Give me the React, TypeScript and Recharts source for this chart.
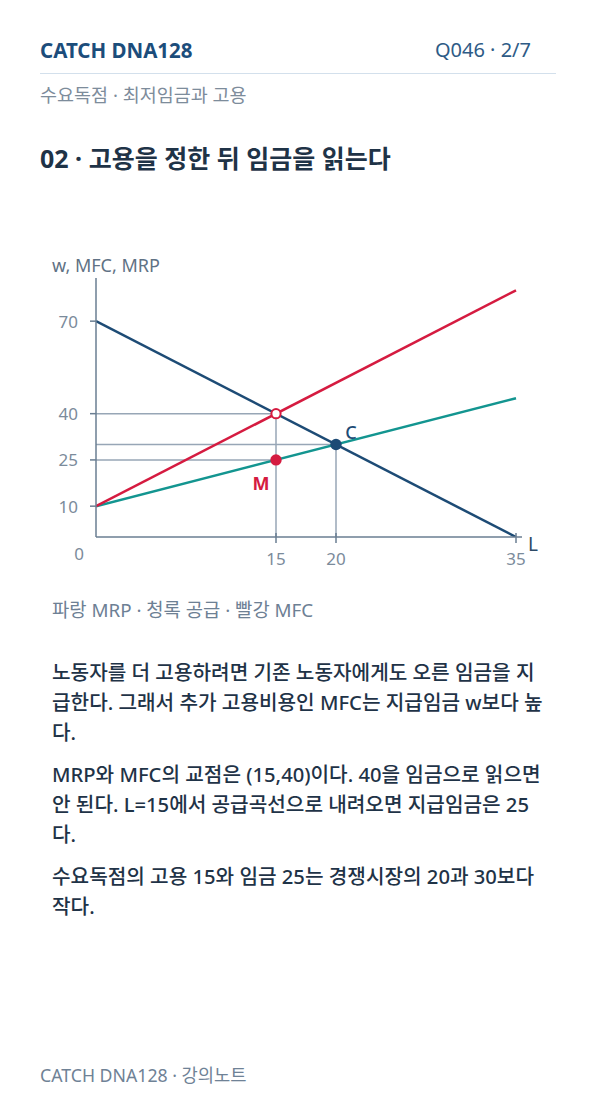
import { Line, LineChart, ReferenceDot, ReferenceLine, XAxis, YAxis } from 'recharts'

// curves of the monopsony diagram, L on x, w on y
const mrpLine = [{ L: 0, w: 70 }, { L: 35, w: 0 }]
const mfcLine = [{ L: 0, w: 10 }, { L: 35, w: 80 }]
const supplyLine = [{ L: 0, w: 10 }, { L: 35, w: 45 }]

const xTicks = [15, 20, 35]
const yTicks = [0, 10, 25, 40, 70]

// (L, w) pairs for the dotted reading guides
const guideSegments: [number, number, number, number][] = [
  [0, 40, 15, 40],
  [0, 30, 20, 30],
  [0, 25, 15, 25],
  [15, 40, 15, 0],
  [20, 30, 20, 0],
]

const mfcCross = { L: 15, w: 40 }
const monopsony = { L: 15, w: 25, label: 'M' }
const competitive = { L: 20, w: 30, label: 'C' }

const NAVY = '#1d4b75'
const RED = '#d51b40'
const TEAL = '#139590'
const AXIS = '#6a7e92'
const GUIDE = '#97a6b6'
const TICK_TEXT = '#7b8b9b'
const FONT = '"Noto Sans", "Noto Sans CJK KR", sans-serif'

function YTick({ x, y, payload }: any) {
  if (payload.value === 0) {
    return <text x={x - 12} y={y + 16} textAnchor="end" dominantBaseline="central" fontSize={17} fill={TICK_TEXT} fontFamily={FONT}>0</text>
  }
  return (
    <g>
      <line x1={x - 6} x2={x} y1={y} y2={y} stroke={AXIS} strokeWidth={1.5} />
      <text x={x - 18} y={y} textAnchor="end" dominantBaseline="central" fontSize={17} fill={TICK_TEXT} fontFamily={FONT}>{payload.value}</text>
    </g>
  )
}

function XTick({ x, y, payload }: any) {
  return (
    <g>
      <line x1={x} x2={x} y1={y - 4} y2={y + 6} stroke={AXIS} strokeWidth={1.5} />
      <text x={x} y={y + 21} textAnchor="middle" dominantBaseline="central" fontSize={17} fill={TICK_TEXT} fontFamily={FONT}>{payload.value}</text>
    </g>
  )
}

function AxisEndLabel({ viewBox }: any) {
  return <text x={viewBox.x + viewBox.width + 6} y={viewBox.y + 7} dominantBaseline="central" fontSize={19} fill="#2d4a66" fontFamily={FONT}>L</text>
}

function labeledDot(color: string, text: string, dx: number, dy: number, weight: number) {
  return ({ cx, cy }: any) => (
    <g>
      <circle cx={cx} cy={cy} r={5.7} fill={color} />
      <text x={cx + dx} y={cy + dy} textAnchor="middle" dominantBaseline="central" fontSize={18} fontWeight={weight} fill={color} fontFamily={FONT}>{text}</text>
    </g>
  )
}

function Diagram() {
  return (
    <LineChart width={596} height={340} margin={{ top: 38, right: 74, bottom: 0, left: 0 }}>
      <XAxis type="number" dataKey="L" domain={[0, 35.5]} allowDataOverflow ticks={xTicks} tick={<XTick />} tickSize={0} tickMargin={0} tickLine={false} axisLine={{ stroke: AXIS, strokeWidth: 1.5 }} height={43} label={{ content: <AxisEndLabel /> }} />
      <YAxis type="number" dataKey="w" domain={[0, 84]} allowDataOverflow ticks={yTicks} tick={<YTick />} tickSize={0} tickMargin={0} tickLine={false} axisLine={{ stroke: AXIS, strokeWidth: 1.5 }} width={96} interval={0} />
      {guideSegments.map(([x1, y1, x2, y2], i) => (
        <ReferenceLine key={i} segment={[{ x: x1, y: y1 }, { x: x2, y: y2 }]} stroke={GUIDE} strokeWidth={1.5} />
      ))}
      <Line data={supplyLine} dataKey="w" type="linear" stroke={TEAL} strokeWidth={2.5} dot={false} activeDot={false} isAnimationActive={false} />
      <Line data={mfcLine} dataKey="w" type="linear" stroke={RED} strokeWidth={2.5} dot={false} activeDot={false} isAnimationActive={false} />
      <Line data={mrpLine} dataKey="w" type="linear" stroke={NAVY} strokeWidth={2.5} dot={false} activeDot={false} isAnimationActive={false} />
      <ReferenceDot x={mfcCross.L} y={mfcCross.w} r={4.6} fill="#ffffff" stroke={RED} strokeWidth={2} />
      <ReferenceDot x={monopsony.L} y={monopsony.w} shape={labeledDot(RED, monopsony.label, -15, 23, 700)} />
      <ReferenceDot x={competitive.L} y={competitive.w} shape={labeledDot(NAVY, competitive.label, 15, -13, 500)} />
    </LineChart>
  )
}

const bodyLines = [
  ['노동자를 더 고용하려면 기존 노동자에게도 오른 임금을 지', '급한다. 그래서 추가 고용비용인 MFC는 지급임금 w보다 높', '다.'],
  ['MRP와 MFC의 교점은 (15,40)이다. 40을 임금으로 읽으면', '안 된다. L=15에서 공급곡선으로 내려오면 지급임금은 25', '다.'],
  ['수요독점의 고용 15와 임금 25는 경쟁시장의 20과 30보다', '작다.'],
]

export default function App() {
  return (
    <div style={{ position: 'absolute', left: 0, top: 0, width: 596, height: 1106, background: '#ffffff', fontFamily: FONT, overflow: 'hidden' }}>
      <div style={{ position: 'absolute', left: 40, top: 36, fontSize: 20.5, fontWeight: 700, color: '#1c4d7b', lineHeight: '28px' }}>CATCH DNA128</div>
      <div style={{ position: 'absolute', right: 65, top: 36, fontSize: 20, color: '#2e5b86', lineHeight: '28px' }}>Q046 · 2/7</div>
      <div style={{ position: 'absolute', left: 40, top: 73, width: 516, height: 1, background: '#d3e0ec' }} />
      <div style={{ position: 'absolute', left: 40, top: 82, fontSize: 18.5, color: '#7d8c9b', lineHeight: '26px' }}>수요독점 · 최저임금과 고용</div>
      <div style={{ position: 'absolute', left: 40, top: 142, fontSize: 25, fontWeight: 700, color: '#1f3347', lineHeight: '32px' }}>02 · 고용을 정한 뒤 임금을 읽는다</div>
      <div style={{ position: 'absolute', left: 52, top: 252, fontSize: 18, color: '#5f7285', lineHeight: '26px' }}>w, MFC, MRP</div>
      <div style={{ position: 'absolute', left: 0, top: 240 }}>
        <Diagram />
      </div>
      <div style={{ position: 'absolute', left: 52, top: 597, fontSize: 18.8, color: '#6d8094', lineHeight: '26px' }}>파랑 MRP · 청록 공급 · 빨강 MFC</div>
      <div style={{ position: 'absolute', left: 52, top: 657, fontSize: 20.2, fontWeight: 500, color: '#1f3347', lineHeight: '30px' }}>
        {bodyLines.map((para, i) => (
          <div key={i} style={{ marginBottom: 12 }}>
            {para.map((line, j) => <div key={j} style={{ whiteSpace: 'nowrap' }}>{line}</div>)}
          </div>
        ))}
      </div>
      <div style={{ position: 'absolute', left: 40, top: 1062, fontSize: 17.7, color: '#6f8296', lineHeight: '26px' }}>CATCH DNA128 · 강의노트</div>
    </div>
  )
}
